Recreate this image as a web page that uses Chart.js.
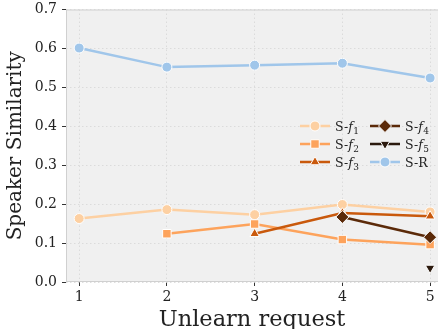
<!DOCTYPE html>
<html>
<head>
<meta charset="utf-8">
<script src="https://cdn.jsdelivr.net/npm/chart.js@4.4.0/dist/chart.umd.min.js"></script>
<style>
  html, body { margin:0; padding:0; background:#fff; }
  #wrap { width:438px; height:329px; }
</style>
</head>
<body>
<div id="wrap"><canvas id="c" width="438" height="329"></canvas></div>
<script>
// --- Datos ---
const requests = [1, 2, 3, 4, 5];
const sF1 = [0.163, 0.186, 0.173, 0.199, 0.180];
const sF2 = [null, 0.124, 0.149, 0.109, 0.096];
const sF3 = [null, null, 0.124, 0.177, 0.169];
const sF4 = [null, null, null, 0.167, 0.115];
const sF5 = [null, null, null, null, 0.036];
const sR  = [0.601, 0.552, 0.557, 0.562, 0.524];
const yTicks = [0, 0.1, 0.2, 0.3, 0.4, 0.5, 0.6, 0.7];

const FONT = "'DejaVu Serif', serif";

// --- Helpers ---
function pts(vals){ return requests.map((x, i) => ({ x, y: vals[i] })); }

const series = [
  { key:'1', vals:sF1, color:'#fdd0a2', style:'circle',   r:5,   rot:0,   bw:1 },
  { key:'2', vals:sF2, color:'#fda35c', style:'rect',     r:6,   rot:0,   bw:1 },
  { key:'3', vals:sF3, color:'#c9590c', style:'triangle', r:5.5, rot:0,   bw:1 },
  { key:'4', vals:sF4, color:'#5b2a09', style:'rectRot',  r:6.5, rot:0,   bw:1 },
  { key:'5', vals:sF5, color:'#2b1a0e', style:'triangle', r:5.5, rot:180, bw:1 },
  { key:'R', vals:sR,  color:'#a0c6ea', style:'circle',   r:5,   rot:0,   bw:1 },
];

const datasets = series.map((s, i) => ({
  label: 'S-' + s.key,
  data: pts(s.vals),
  borderColor: s.color,
  backgroundColor: s.color,
  borderWidth: 2.5,
  pointStyle: s.style,
  pointRadius: s.r,
  pointRotation: s.rot,
  pointBackgroundColor: s.color,
  pointBorderColor: '#ffffff',
  pointBorderWidth: s.bw,
  order: series.length - i,
  spanGaps: false,
}));

// fondo gris del área y bordes
const plotBg = {
  id: 'plotBg',
  beforeDraw(chart){
    const { ctx, chartArea: a } = chart;
    ctx.save();
    ctx.fillStyle = '#f0f0f0';
    ctx.fillRect(a.left, a.top, a.right - a.left, a.bottom - a.top);
    ctx.strokeStyle = '#d0d0d0';
    ctx.lineWidth = 1;
    ctx.setLineDash([]);
    ctx.beginPath();
    ctx.moveTo(a.left, a.top + 0.5); ctx.lineTo(a.right, a.top + 0.5);
    ctx.moveTo(a.left + 0.5, a.top); ctx.lineTo(a.left + 0.5, a.bottom);
    ctx.moveTo(a.left, a.bottom - 0.5); ctx.lineTo(a.right, a.bottom - 0.5);
    ctx.stroke();
    ctx.restore();
  }
};

// leyenda dentro del área, 2 columnas, con f en itálica y subíndice
const innerLegend = {
  id: 'innerLegend',
  afterDraw(chart){
    const ctx = chart.ctx;
    const cols = [300, 370];
    const rows = [126, 144, 162];
    ctx.save();
    ctx.setLineDash([]);
    series.forEach((s, i) => {
      const col = i < 3 ? 0 : 1;
      const x0 = cols[col], y = rows[i % 3];
      ctx.strokeStyle = s.color; ctx.lineWidth = 2.5;
      ctx.beginPath(); ctx.moveTo(x0, y); ctx.lineTo(x0 + 30, y); ctx.stroke();
      ctx.fillStyle = s.color; ctx.strokeStyle = '#ffffff'; ctx.lineWidth = s.bw;
      Chart.helpers.drawPoint(ctx, { pointStyle:s.style, radius:s.r, rotation:s.rot, borderWidth:s.bw }, x0 + 15, y);
      let tx = x0 + 35;
      ctx.fillStyle = '#222'; ctx.textBaseline = 'alphabetic'; ctx.textAlign = 'left';
      const base = y + 4.5;
      ctx.font = "12.5px " + FONT;
      ctx.fillText('S-', tx, base); tx += ctx.measureText('S-').width;
      if (s.key === 'R'){
        ctx.fillText('R', tx, base);
      } else {
        ctx.font = "italic 12.5px " + FONT;
        ctx.fillText('f', tx, base); tx += ctx.measureText('f').width + 0.5;
        ctx.font = "9px " + FONT;
        ctx.fillText(s.key, tx, base + 3);
      }
    });
    ctx.restore();
  }
};

new Chart(document.getElementById('c'), {
  type: 'line',
  data: { datasets },
  options: {
    responsive: false,
    animation: false,
    layout: { autoPadding: false, padding: { top: 9.5, right: 0, left: 0, bottom: 0 } },
    plugins: { legend: { display:false }, tooltip: { enabled:false } },
    scales: {
      x: {
        type: 'linear',
        min: 0.85, max: 5.09,
        afterBuildTicks(scale){ scale.ticks = requests.map(v => ({ value: v })); },
        afterFit(scale){ scale.height = 47; scale.paddingLeft = 0; scale.paddingRight = 0; },
        ticks: { color:'#222', font:{ family:FONT, size:14 }, padding:3, callback: v => String(v) },
        grid: { color:'#d6d6d6', lineWidth:0.8, drawTicks:true, tickLength:4, tickColor:'#333', tickWidth:1, tickBorderDash:[] },
        border: { display:false, dash:[1.5, 2.5] },
        title: { display:true, text:'Unlearn request', color:'#222', font:{ family:FONT, size:22.5 }, padding:{ top:0, bottom:-5 } },
      },
      y: {
        min: 0, max: 0.7,
        afterBuildTicks(scale){ scale.ticks = yTicks.map(v => ({ value: v })); },
        afterFit(scale){ scale.width = 66; scale.paddingTop = 0; scale.paddingBottom = 0; },
        ticks: { color:'#222', font:{ family:FONT, size:14 }, padding:5, callback: v => Number(v).toFixed(1) },
        grid: { color:'#d6d6d6', lineWidth:0.8, drawTicks:true, tickLength:4, tickColor:'#333', tickWidth:1, tickBorderDash:[] },
        border: { display:false, dash:[1.5, 2.5] },
        title: { display:true, text:'Speaker Similarity', color:'#222', font:{ family:FONT, size:20 }, padding:{ top:4, bottom:0 } },
      }
    }
  },
  plugins: [plotBg, innerLegend]
});
</script>
</body>
</html>
